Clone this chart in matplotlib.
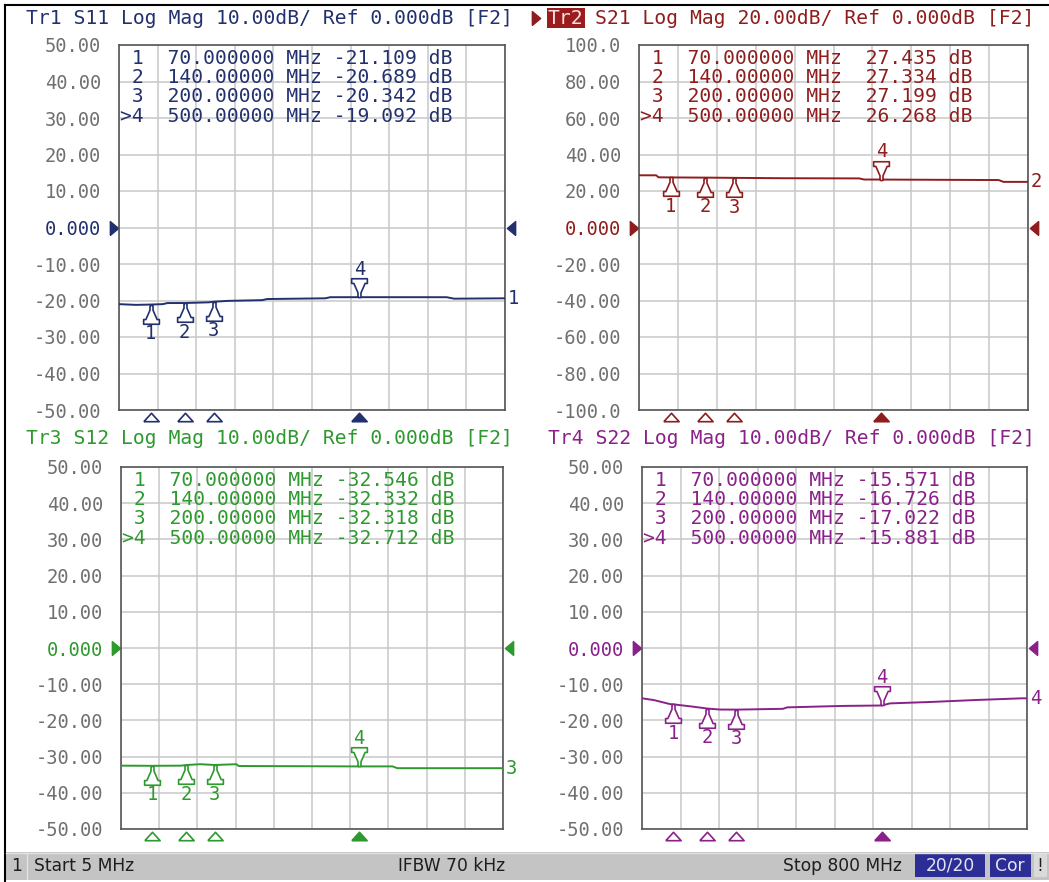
import numpy as np
import matplotlib
matplotlib.use("Agg")
import matplotlib.pyplot as plt
from matplotlib.patches import Rectangle

W, H = 1049, 882
MONO = "DejaVu Sans Mono"

# sweep and markers
f_start, f_stop = 5, 800
marker_freqs = [70, 140, 200, 500]
marker_labels = ["70.000000", "140.00000", "200.00000", "500.00000"]

# Tr1 S11
s11_f = [5, 40, 70, 95, 105, 140, 190, 200, 230, 300, 310, 430, 440, 500, 680, 695, 800]
s11_db = [-21.0, -21.2, -21.109, -21.0, -20.7, -20.689, -20.5, -20.342, -20.1, -19.9,
          -19.6, -19.4, -19.1, -19.092, -19.1, -19.5, -19.4]
s11_mk = [-21.109, -20.689, -20.342, -19.092]

# Tr2 S21
s21_f = [5, 40, 45, 70, 140, 200, 300, 455, 465, 500, 740, 750, 800]
s21_db = [28.6, 28.6, 27.5, 27.435, 27.334, 27.199, 27.0, 26.9, 26.3, 26.268, 26.0, 25.0, 25.0]
s21_mk = [27.435, 27.334, 27.199, 26.268]

# Tr3 S12
s12_f = [5, 70, 130, 140, 170, 200, 245, 250, 500, 570, 580, 800]
s12_db = [-32.5, -32.546, -32.5, -32.332, -32.1, -32.318, -32.1, -32.6, -32.712, -32.7, -33.2, -33.2]
s12_mk = [-32.546, -32.332, -32.318, -32.712]

# Tr4 S22
s22_f = [5, 30, 63, 70, 110, 140, 166, 200, 296, 305, 420, 500, 517, 603, 688, 789, 800]
s22_db = [-13.9, -14.4, -15.5, -15.571, -16.2, -16.726, -17.0, -17.022, -16.8, -16.4,
          -16.0, -15.881, -15.3, -14.9, -14.4, -13.9, -13.9]
s22_mk = [-15.571, -16.726, -17.022, -15.881]

labels_10db = ["50.00", "40.00", "30.00", "20.00", "10.00", "0.000",
               "-10.00", "-20.00", "-30.00", "-40.00", "-50.00"]
labels_20db = ["100.0", "80.00", "60.00", "40.00", "20.00", "0.000",
               "-20.00", "-40.00", "-60.00", "-80.00", "-100.0"]

c_tr1 = "#22306e"
c_tr2 = "#8e1d1d"
c_tr3 = "#2e992e"
c_tr4 = "#8a218a"

fig = plt.figure(figsize=(W / 100, H / 100), dpi=100)

# background layer in pixel coordinates
bg = fig.add_axes([0, 0, 1, 1])
bg.set_xlim(0, W)
bg.set_ylim(H, 0)
bg.axis("off")

bg.plot([5, 5], [5, H], color="black", lw=1.5)
bg.plot([5, W], [5, 5], color="black", lw=1.5)

# status bar
bg.add_patch(Rectangle((6, 852), W - 6, 28, fc="#c4c4c4", ec="none"))
bg.plot([6, W], [852.5, 852.5], color="#e2e2e2", lw=1)
bg.plot([27, 27], [853, 879], color="#e2e2e2", lw=1)
sb = dict(fontsize=12.3, family="DejaVu Sans", color="#1e1e1e", va="center")
bg.text(11, 866, "1", **sb)
bg.text(34, 866, "Start 5 MHz", **sb)
bg.text(398, 866, "IFBW 70 kHz", **sb)
bg.text(783, 866, "Stop 800 MHz", **sb)
bg.add_patch(Rectangle((915, 854), 70, 23, fc="#2c2e96", ec="none"))
bg.text(950, 866, "20/20", ha="center", **dict(sb, color="#e4e4f4"))
bg.add_patch(Rectangle((990, 854), 41, 23, fc="#2c2e96", ec="none"))
bg.text(1010, 866, "Cor", ha="center", **dict(sb, color="#e4e4f4"))
bg.add_patch(Rectangle((1034, 854), 13, 23, fc="#dadada", ec="none"))
bg.text(1040, 866, "!", ha="center", **sb)

# marker glyphs (tip at the trace)
up_mk = [(-0.08, 0), (0.08, 0), (0.08, -0.25), (0.3, -0.75), (0.42, -0.75), (0.42, -1.0),
         (-0.42, -1.0), (-0.42, -0.75), (-0.3, -0.75), (-0.08, -0.25), (-0.08, 0)]
down_mk = [(x, -y) for x, y in up_mk]
tri_up = [(-1, -0.55), (1, -0.55), (0, 0.55), (-1, -0.55)]
arr_r = [(-0.6, -1), (0.6, 0), (-0.6, 1), (-0.6, -1)]
arr_l = [(0.6, -1), (-0.6, 0), (0.6, 1), (0.6, -1)]


def panel(px, f, db, mk, ylim, ylabels, color, trace_no):
    x0, y0, x1, y1 = px
    ax = fig.add_axes([x0 / W, 1 - y1 / H, (x1 - x0) / W, (y1 - y0) / H])
    ax.set_xlim(f_start, f_stop)
    ax.set_ylim(-ylim, ylim)
    ax.set_xticks(np.linspace(f_start, f_stop, 11))
    ax.set_yticks(np.linspace(ylim, -ylim, 11))
    ax.set_yticklabels(ylabels, family=MONO, fontsize=13.5, color="#707070")
    ax.get_yticklabels()[5].set_color(color)
    ax.tick_params(length=0, pad=13, labelbottom=False)
    ax.grid(True, color="#c8c8c8", lw=1.1)
    ax.set_axisbelow(True)
    for s in ax.spines.values():
        s.set_color("#555555")
        s.set_linewidth(1.2)

    ax.plot(f, db, color=color, lw=1.4, zorder=3)

    # marker table
    h = y1 - y0
    for i in range(4):
        num = ">4" if i == 3 else " %d" % (i + 1)
        row = "%s  %s MHz %7.3f dB" % (num, marker_labels[i], mk[i])
        ax.text(0.003, 1 - (13 + 19.4 * i) / h, row, transform=ax.transAxes,
                family=MONO, fontsize=14.1, color=color, va="center", ha="left")

    # markers on the trace
    for i in range(4):
        if i < 3:
            ax.plot(marker_freqs[i], mk[i], marker=up_mk, ms=27, mfc="white",
                    mec=color, mew=1.2, zorder=4)
            dy = -21
        else:
            ax.plot(marker_freqs[i], mk[i], marker=down_mk, ms=27, mfc="white",
                    mec=color, mew=1.2, zorder=4)
            dy = 20
        ax.annotate(str(i + 1), xy=(marker_freqs[i], mk[i]), xytext=(0, dy),
                    textcoords="offset points", ha="center", va="center",
                    family=MONO, fontsize=13.5, color=color, zorder=5)

    # marker positions under the grid
    xt = ax.get_xaxis_transform()
    ax.plot(marker_freqs[:3], [-0.018] * 3, transform=xt, ls="none", marker=tri_up,
            ms=11, mfc="white", mec=color, mew=1.2, clip_on=False)
    ax.plot(marker_freqs[3:], [-0.018], transform=xt, ls="none", marker=tri_up,
            ms=11, mfc=color, mec=color, mew=1.2, clip_on=False)

    # reference level arrows
    yt = ax.get_yaxis_transform()
    ax.plot([-0.013], [0], transform=yt, marker=arr_r, ms=10, color=color, clip_on=False)
    ax.plot([1.015], [0], transform=yt, marker=arr_l, ms=10, color=color, clip_on=False)

    # trace number at the right end
    ax.annotate(str(trace_no), xy=(f[-1], db[-1]), xytext=(2, 0),
                textcoords="offset points", ha="left", va="center",
                family=MONO, fontsize=13.5, color=color, annotation_clip=False)
    return ax


panel((119, 45, 505, 410), s11_f, s11_db, s11_mk, 50, labels_10db, c_tr1, 1)
panel((639, 45, 1028, 410), s21_f, s21_db, s21_mk, 100, labels_20db, c_tr2, 2)
panel((121, 467, 503, 829), s12_f, s12_db, s12_mk, 50, labels_10db, c_tr3, 3)
panel((642, 467, 1027, 829), s22_f, s22_db, s22_mk, 50, labels_10db, c_tr4, 4)

# trace titles
tt = dict(family=MONO, fontsize=14.1, va="center", ha="left")
bg.text(26, 18, "Tr1 S11 Log Mag 10.00dB/ Ref 0.000dB [F2]", color=c_tr1, **tt)
bg.plot([536], [18], marker=arr_r, ms=10, color=c_tr2)
bg.text(548, 18, "Tr2", color="#f6e2e2",
        bbox=dict(boxstyle="square,pad=0.05", fc="#9a1c1c", ec="none"), **tt)
bg.text(548 + 4 * 11.78, 18, "S21 Log Mag 20.00dB/ Ref 0.000dB [F2]", color=c_tr2, **tt)
bg.text(26, 438, "Tr3 S12 Log Mag 10.00dB/ Ref 0.000dB [F2]", color=c_tr3, **tt)
bg.text(548, 438, "Tr4 S22 Log Mag 10.00dB/ Ref 0.000dB [F2]", color=c_tr4, **tt)

fig.savefig("out.png", dpi=100, facecolor="white")
